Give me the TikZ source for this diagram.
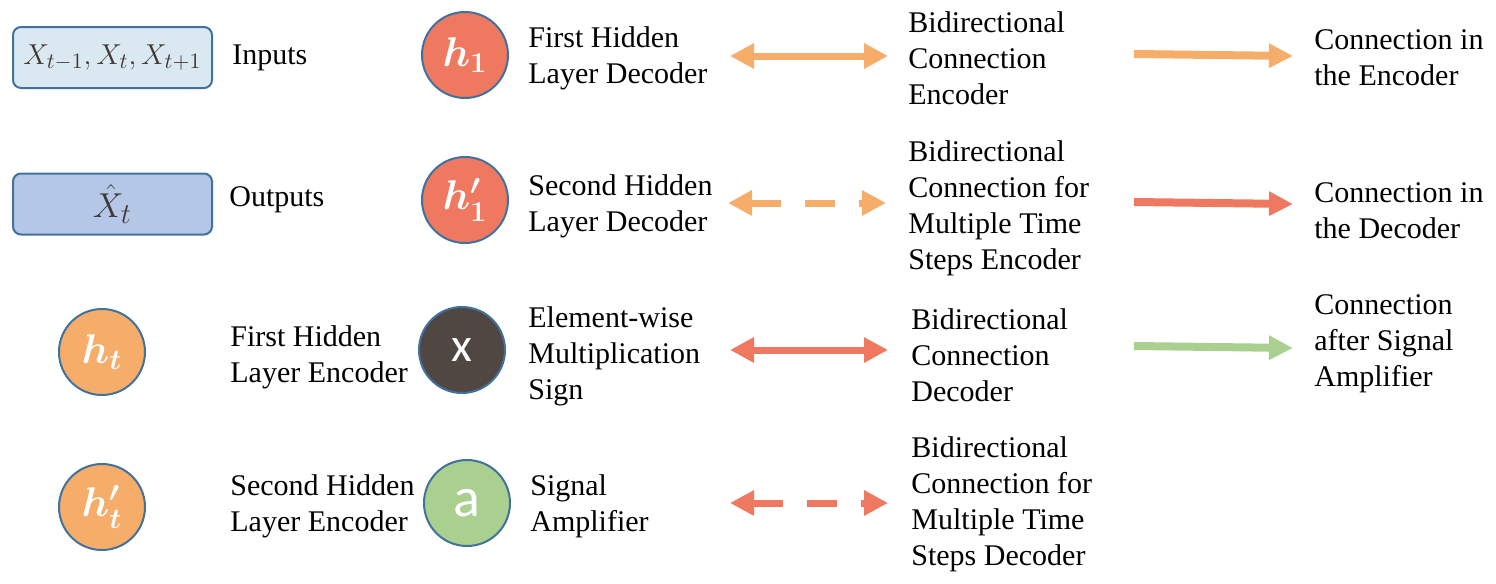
\documentclass[tikz,border=0pt]{standalone}
\usepackage{fontspec}
\setmainfont{Liberation Serif}
\newfontfamily\calib{Carlito}
\usetikzlibrary{arrows.meta}
\definecolor{bord}{RGB}{65,113,156}
\definecolor{inbox}{RGB}{218,233,241}
\definecolor{outbox}{RGB}{180,199,231}
\definecolor{ora}{RGB}{245,173,105}
\definecolor{sal}{RGB}{239,121,96}
\definecolor{dark}{RGB}{80,70,66}
\definecolor{grn}{RGB}{169,208,142}
\definecolor{mtext}{RGB}{64,56,52}
\begin{document}
\begin{tikzpicture}[x=0.5pt,y=-0.5pt,
  lbl/.style={anchor=west, align=left, inner sep=0pt, font=\fontsize{15pt}{18pt}\selectfont},
  ibox/.style={draw=bord, line width=1pt, rounded corners=4pt, minimum width=99.5pt, minimum height=30.5pt, inner sep=0pt, text=mtext, font=\fontsize{15.5pt}{18pt}\selectfont},
  circ/.style={circle, draw=bord, line width=1pt, minimum size=43pt, inner sep=0pt, text=white, font=\fontsize{21pt}{24pt}\selectfont\boldmath},
  barrow/.style={line width=3.5pt, {Triangle[length=12pt,width=12pt]}-{Triangle[length=12pt,width=12pt]}},
  dbarrow/.style={barrow, dash pattern=on 15pt off 12pt},
  sarrow/.style={line width=4pt, -{Triangle[length=12pt,width=11.5pt]}}]
\useasboundingbox (0,0) rectangle (1496,584);

% column 1
\node[ibox, fill=inbox] (inp) at (112.5,57.5) {$X_{t-1},X_t,X_{t+1}$};
\node[lbl] (tinp) at (232,58) {Inputs};
\node[ibox, fill=outbox, font=\fontsize{19pt}{21pt}\selectfont] (outp) at (112.5,204) {$\hat{X}_t$};
\node[lbl] (toutp) at (229,200) {Outputs};
\node[circ, fill=ora] (ht) at (102,352) {$h_t$};
\node[lbl] (tht) at (230,357) {First Hidden\\Layer Encoder};
\node[circ, fill=ora] (htp) at (102,507) {$h_t'$};
\node[lbl] (thtp) at (230,506) {Second Hidden\\Layer Encoder};

% column 2
\node[circ, fill=sal] (h1) at (465,55) {$h_1$};
\node[lbl] (th1) at (528,58) {First Hidden\\Layer Decoder};
\node[circ, fill=sal] (h1p) at (465,200) {$h_1'$};
\node[lbl] (th1p) at (528,206) {Second Hidden\\Layer Decoder};
\node[circ, fill=dark, font=\calib\fontsize{24pt}{26pt}\selectfont] (mul) at (462,350) {x};
\node[lbl] (tmul) at (528,356) {Element-wise\\Multiplication\\Sign};
\node[circ, fill=grn, font=\calib\fontsize{28pt}{30pt}\selectfont] (amp) at (467,503) {a};
\node[lbl] (tamp) at (530,506) {Signal\\Amplifier};

% column 3
\coordinate (b1l) at (730,56); \coordinate (b1r) at (888,56);
\draw[barrow, ora] (b1l) -- (b1r);
\node[lbl] (tb1) at (908,58) {Bidirectional\\Connection\\Encoder};
\coordinate (b2l) at (728,203); \coordinate (b2r) at (886,203);
\draw[dbarrow, ora] (b2l) -- (b2r);
\node[lbl] (tb2) at (908,208) {Bidirectional\\Connection for\\Multiple Time\\Steps Encoder};
\coordinate (b3l) at (730,350); \coordinate (b3r) at (888,350);
\draw[barrow, sal] (b3l) -- (b3r);
\node[lbl] (tb3) at (911,355) {Bidirectional\\Connection\\Decoder};
\coordinate (b4l) at (730,503); \coordinate (b4r) at (888,503);
\draw[dbarrow, sal] (b4l) -- (b4r);
\node[lbl] (tb4) at (911,504) {Bidirectional\\Connection for\\Multiple Time\\Steps Decoder};

% column 4
\coordinate (c1l) at (1134,54); \coordinate (c1r) at (1293,56);
\draw[sarrow, ora] (c1l) -- (c1r);
\node[lbl] (tc1) at (1314,58) {Connection in\\the Encoder};
\coordinate (c2l) at (1134,202); \coordinate (c2r) at (1293,204);
\draw[sarrow, sal] (c2l) -- (c2r);
\node[lbl] (tc2) at (1314,211) {Connection in\\the Decoder};
\coordinate (c3l) at (1134,346); \coordinate (c3r) at (1293,348);
\draw[sarrow, grn] (c3l) -- (c3r);
\node[lbl] (tc3) at (1314,344) {Connection\\after Signal\\Amplifier};
\end{tikzpicture}
\end{document}
